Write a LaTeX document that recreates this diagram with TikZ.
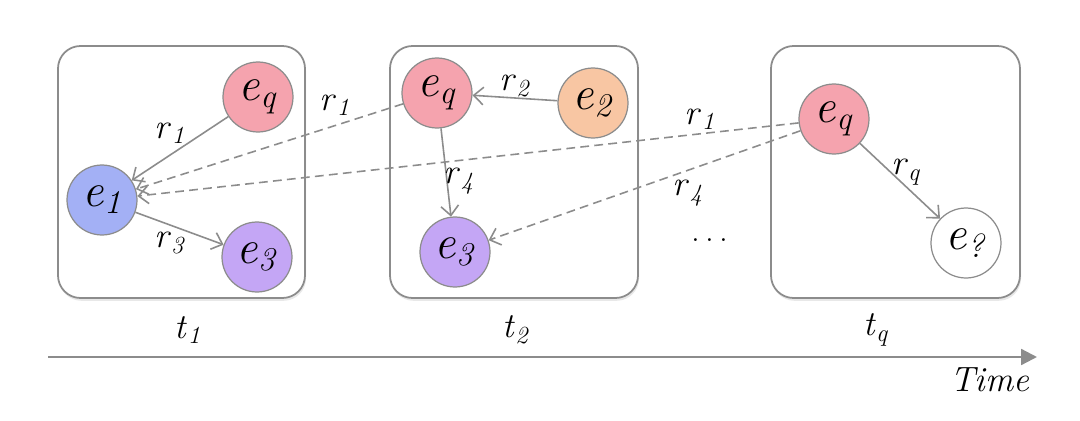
\documentclass[tikz,border=0pt]{standalone}
\usetikzlibrary{arrows.meta,shadows}

\definecolor{linegray}{HTML}{8C8C8C}
\definecolor{qpink}{HTML}{F5A3AE}
\definecolor{oneblue}{HTML}{A3B0F5}
\definecolor{threelilac}{HTML}{C4A6F5}
\definecolor{twopeach}{HTML}{F8C6A3}

\newcommand{\ent}[1]{\textit{e}\textsubscript{\textit{#1}}}
\newcommand{\rel}[1]{\textit{r}\textsubscript{\textit{#1}}}

\tikzset{
    entity/.style={circle, draw=linegray, line width=0.7pt, minimum size=1.4cm, inner sep=0pt, font=\fontsize{27}{27}\selectfont},
    snapbox/.style={draw=linegray, line width=1pt, rounded corners=0.45cm, fill=white,
        drop shadow={opacity=0.18, shadow xshift=0.6pt, shadow yshift=-1.6pt}},
    relarrow/.style={->, draw=linegray, line width=0.9pt},
    hoparrow/.style={relarrow, dash pattern=on 5pt off 3pt},
    lab/.style={font=\fontsize{20}{20}\selectfont, inner sep=0pt},
    >={Straight Barb[length=5.5pt,width=10pt]}
}

\begin{document}
\begin{tikzpicture}[x=0.02cm, y=-0.02cm]
    \useasboundingbox (0,0) rectangle (1080,420);
    % snapshots
    \draw [snapbox] (58,46) rectangle (305,298);
    \draw [snapbox] (390,46) rectangle (638,298);
    \draw [snapbox] (771,46) rectangle (1020,298);

    % t_1
    \node [entity, fill=qpink] (q1) at (258,97) {\ent{q}};
    \node [entity, fill=oneblue] (e1) at (102,200) {\ent{1}};
    \node [entity, fill=threelilac] (e3a) at (257,257) {\ent{3}};
    % t_2
    \node [entity, fill=qpink] (q2) at (437,93) {\ent{q}};
    \node [entity, fill=twopeach] (e2) at (593,103) {\ent{2}};
    \node [entity, fill=threelilac] (e3b) at (455,252) {\ent{3}};
    % t_q
    \node [entity, fill=qpink] (q3) at (834,119) {\ent{q}};
    \node [entity, fill=white] (ex) at (966,243) {\ent{?}};

    \draw [relarrow] (q1) -- (e1);
    \draw [relarrow] (e1) -- (e3a);
    \draw [relarrow] (e2) -- (q2);
    \draw [relarrow] (q2) -- (e3b);
    \draw [relarrow] (q3) -- (ex);
    \draw [hoparrow] (q2) -- (e1);
    \draw [hoparrow] (q3) -- (e1);
    \draw [hoparrow] (q3) -- (e3b);

    \node [lab] (l1) at (170,133) {\rel{1}};
    \node [lab] (l2) at (170,243) {\rel{3}};
    \node [lab] (l3) at (335,105) {\rel{1}};
    \node [lab] (l4) at (515,86) {\rel{2}};
    \node [lab] (l5) at (459,181) {\rel{4}};
    \node [lab] (l6) at (700,119) {\rel{1}};
    \node [lab] (l7) at (688,193) {\rel{4}};
    \node [lab] (l8) at (906,172) {\rel{q}};
    \node [lab] (dots) at (710,240) {.\kern3pt.\kern3pt.};

    % time axis
    \node [lab] (t1) at (188,330) {\textit{t}\textsubscript{\textit{1}}};
    \node [lab] (t2) at (516,330) {\textit{t}\textsubscript{\textit{2}}};
    \node [lab] (tq) at (876,330) {\textit{t}\textsubscript{\textit{q}}};
    \coordinate (ts) at (48,357);
    \coordinate (te) at (1037,357);
    \draw [-{Triangle[length=9pt,width=9pt]}, draw=linegray, fill=linegray, line width=1.3pt] (ts) -- (te);
    \node [lab, anchor=east] (time) at (1030,380) {\textit{Time}};
\end{tikzpicture}
\end{document}
